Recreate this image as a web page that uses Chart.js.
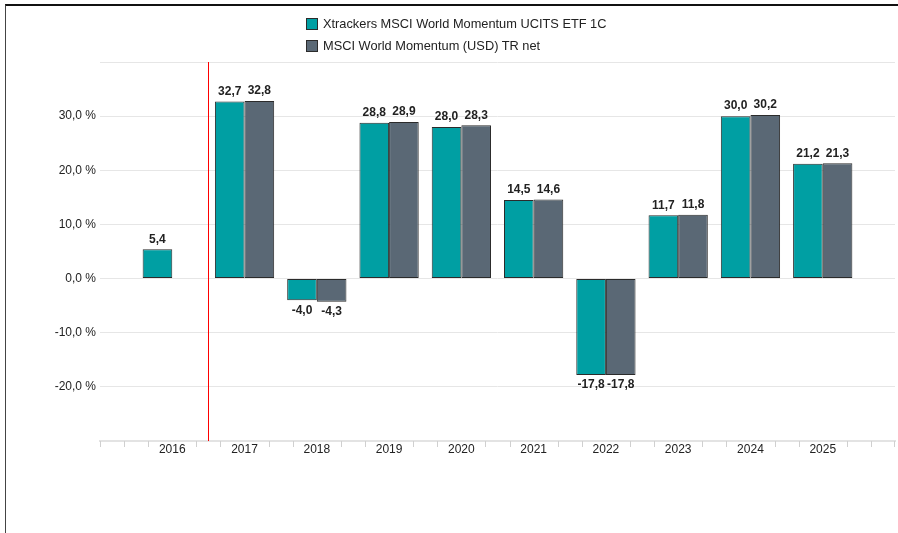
<!DOCTYPE html>
<html><head><meta charset="utf-8">
<script src="https://cdn.jsdelivr.net/npm/chart.js@4"></script>
<style>
html,body{margin:0;padding:0;background:#fff;}
#wrap{position:relative;width:898px;height:533px;overflow:hidden;font-family:"Liberation Sans",Arial,sans-serif;}
#frame{position:absolute;left:5px;top:4px;right:-5px;bottom:-5px;border-top:2px solid #111;border-left:1.5px solid #444;pointer-events:none;}
#legend{position:absolute;left:306px;top:13px;font-size:12.8px;color:#222;line-height:22px;}
.li{display:flex;align-items:center;}
.box{width:10px;height:10px;border:1px solid #2b2b2b;margin-right:5px;}
canvas{position:absolute;left:0;top:0;}
</style></head>
<body><div id="wrap">
<canvas id="c" width="898" height="533"></canvas>
<div id="frame"></div>
<div id="legend"></div>
</div>
<script>
const categories = ['', '2016', '2017', '2018', '2019', '2020', '2021', '2022', '2023', '2024', '2025', ''];
const seriesNames = ['Xtrackers MSCI World Momentum UCITS ETF 1C', 'MSCI World Momentum (USD) TR net'];
const etfValues = [null, 5.4, 32.7, -4.0, 28.8, 28.0, 14.5, -17.8, 11.7, 30.0, 21.2, null];
const indexValues = [null, null, 32.8, -4.3, 28.9, 28.3, 14.6, -17.8, 11.8, 30.2, 21.3, null];
const yTicks = [-30, -20, -10, 0, 10, 20, 30, 40];
const colors = ['#009fa3', '#5a6875'];

const leg = document.getElementById('legend');
seriesNames.forEach((n,i)=>{
  const d=document.createElement('div');d.className='li';
  d.innerHTML='<span class="box" style="background:'+colors[i]+'"></span><span>'+n+'</span>';
  leg.appendChild(d);
});

const fmt = v => v.toFixed(1).replace('.', ',');

const extras = {
  id:'extras',
  afterDatasetsDraw(chart){
    const ctx=chart.ctx, x=chart.scales.x, ca=chart.chartArea;
    ctx.save();
    ctx.font='bold 12px "Liberation Sans", Arial, sans-serif';
    ctx.fillStyle='#222';ctx.textAlign='center';
    chart.data.datasets.forEach((ds,di)=>{
      const meta=chart.getDatasetMeta(di);
      meta.data.forEach((el,i)=>{
        const v=ds.data[i]; if(v==null) return;
        if(v>=0){ctx.textBaseline='bottom';ctx.fillText(fmt(v),el.x,el.y-4);}
        else{ctx.textBaseline='top';ctx.fillText(fmt(v),el.x,el.y+4);}
      });
    });
    const rx=Math.round((x.getPixelForValue(1)+x.getPixelForValue(2))/2)+0.5;
    ctx.strokeStyle='#ff0000';ctx.lineWidth=1;
    ctx.beginPath();ctx.moveTo(rx,ca.top);ctx.lineTo(rx,ca.bottom);ctx.stroke();
    ctx.strokeStyle='#d0d0d0';
    for(let i=0;i<categories.length-1;i++){
      for(let k=0;k<3;k++){
        if(k===0 && categories[i]!=='') continue;
        const p=x.getPixelForValue(i)+(x.getPixelForValue(i+1)-x.getPixelForValue(i))*k/3;
        const px=Math.round(p)+0.5;
        ctx.beginPath();ctx.moveTo(px,ca.bottom);ctx.lineTo(px,ca.bottom+6);ctx.stroke();
      }
    }
    const pe=Math.round(x.getPixelForValue(categories.length-1))-0.5;
    ctx.beginPath();ctx.moveTo(pe,ca.bottom);ctx.lineTo(pe,ca.bottom+6);ctx.stroke();
    ctx.restore();
  }
};

new Chart(document.getElementById('c'),{
  type:'bar',
  data:{labels:categories,datasets:[
    {label:seriesNames[0],data:etfValues,backgroundColor:colors[0],borderColor:'#2b2b2b',borderWidth:1,borderSkipped:false,categoryPercentage:0.82,barPercentage:1},
    {label:seriesNames[1],data:indexValues,backgroundColor:colors[1],borderColor:'#2b2b2b',borderWidth:1,borderSkipped:false,categoryPercentage:0.82,barPercentage:1}
  ]},
  options:{
    responsive:false,animation:false,
    layout:{padding:{left:0,right:3,top:62,bottom:70}},
    plugins:{legend:{display:false},tooltip:{enabled:false}},
    scales:{
      x:{offset:false,
        grid:{display:false,drawTicks:false},
        border:{display:true,color:'#e3e3e3',width:2},
        ticks:{autoSkip:false,maxRotation:0,padding:1,color:'#222',font:{family:'"Liberation Sans", Arial, sans-serif',size:12}},
        afterFit(s){s.height=22;}
      },
      y:{min:-30,max:40,
        afterBuildTicks(s){s.ticks=yTicks.map(v=>({value:v}));},
        afterFit(s){s.width=100;},
        grid:{color:'#e6e6e6',drawTicks:false,lineWidth:1},
        border:{display:false},
        ticks:{padding:4,color:'#222',font:{family:'"Liberation Sans", Arial, sans-serif',size:12},
          callback:v=>(v===40||v===-30)?'':fmt(v)+' %'}
      }
    }
  },
  plugins:[extras]
});
</script></body></html>
